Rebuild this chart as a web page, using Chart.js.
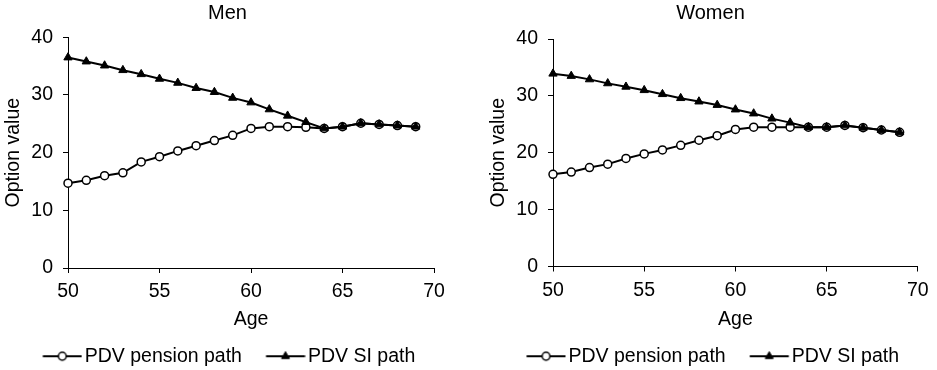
<!DOCTYPE html>
<html><head><meta charset="utf-8">
<script src="https://cdn.jsdelivr.net/npm/chart.js@4/dist/chart.umd.min.js"></script>
<style>
html,body{margin:0;padding:0;background:#fff;overflow:hidden;width:937px;height:370px;position:relative;}
.box{position:absolute;top:0;height:376px;}
#b1{left:0;width:455px;}
#b2{left:485px;width:451px;}
</style></head><body>
<div class="box" id="b1"><canvas id="c1"></canvas></div>
<div class="box" id="b2"><canvas id="c2"></canvas></div>
<script>
const ages = [50,51,52,53,54,55,56,57,58,59,60,61,62,63,64,65,66,67,68,69];
const menPension = [14.7,15.2,16.0,16.5,18.4,19.3,20.3,21.2,22.1,23.0,24.2,24.5,24.5,24.4,24.2,24.5,25.1,24.9,24.7,24.5];
const menSI      = [36.5,35.8,35.1,34.3,33.6,32.8,32.1,31.2,30.5,29.5,28.7,27.5,26.4,25.3,24.2,24.5,25.1,24.9,24.7,24.5];
const womenPension = [16.2,16.6,17.4,18.0,19.0,19.8,20.5,21.3,22.2,23.0,24.1,24.5,24.5,24.5,24.5,24.5,24.8,24.4,24.0,23.6];
const womenSI      = [33.9,33.5,32.9,32.2,31.6,31.0,30.3,29.6,29.0,28.4,27.6,26.9,26.0,25.3,24.5,24.5,24.8,24.4,24.0,23.6];
const xTicks = [50,55,60,65,70];
const yTicks = [0,10,20,30,40];
const seriesNames = ['PDV pension path','PDV SI path'];
const panelTitles = ['Men','Women'];
const xTitle = 'Age';
const yTitle = 'Option value';

const FONT = '"Liberation Sans", Arial, Helvetica, sans-serif';

// legend swatch: a short line with the marker, drawn so it ends ~3px before the label text
function legendImage(kind, bw){
  const half = Math.round(bw/2 + 7.5);
  const W = half*2;
  const c = document.createElement('canvas');
  c.width = W; c.height = 16;
  const g = c.getContext('2d');
  const end = half + bw/2 + 6.75;
  const start = end - 39;
  g.strokeStyle = '#000'; g.lineWidth = 2;
  g.beginPath(); g.moveTo(start, 8); g.lineTo(end, 8); g.stroke();
  const cx = (start + end)/2, cy = 8;
  if (kind === 'circle') {
    g.beginPath(); g.arc(cx, cy, 3.9, 0, Math.PI*2);
    g.fillStyle = '#fff'; g.fill(); g.lineWidth = 1.5; g.stroke();
  } else {
    const r = 4.6;
    g.beginPath();
    g.moveTo(cx, cy - r);
    g.lineTo(cx + r*Math.cos(Math.PI/6), cy + r*0.5);
    g.lineTo(cx - r*Math.cos(Math.PI/6), cy + r*0.5);
    g.closePath();
    g.fillStyle = '#000'; g.fill(); g.lineWidth = 1; g.stroke();
  }
  return c;
}

function makeChart(id, title, pension, si, cfg){
  const toXY = arr => ages.map((a,i)=>({x:a, y:arr[i]}));
  const imgCircle = legendImage('circle', cfg.bw);
  const imgTri = legendImage('triangle', cfg.bw);
  return new Chart(document.getElementById(id), {
    type: 'line',
    data: { datasets: [
      { label: seriesNames[1], data: toXY(si), borderColor:'#000', backgroundColor:'#000', borderWidth:2,
        pointStyle:'triangle', pointRadius:4.8, pointBorderWidth:1, pointBackgroundColor:'#000', pointBorderColor:'#000',
        tension:0, clip:false },
      { label: seriesNames[0], data: toXY(pension), borderColor:'#000', backgroundColor:'#fff', borderWidth:2,
        pointStyle:'circle', pointRadius:4, pointBorderWidth:1.5, pointBackgroundColor:'#fff', pointBorderColor:'#000',
        tension:0, clip:false }
    ]},
    options: {
      responsive:true, maintainAspectRatio:false, animation:false,
      layout: { padding: { left:0, right:0, top:0, bottom:0 } },
      plugins: {
        tooltip: { enabled:false },
        title: { display:true, text:title, color:'#000', font:{family:FONT, size:20, weight:'normal'},
                 padding:{ top:1.2, bottom:cfg.titleGap } },
        legend: { position:'bottom',
          labels: { usePointStyle:true, pointStyleWidth:cfg.bw, padding:cfg.lp, color:'#000',
            font:{family:FONT, size:19.5},
            generateLabels: () => [
              { text:seriesNames[0], pointStyle:imgCircle, datasetIndex:1, hidden:false, lineWidth:0, fillStyle:'#000', strokeStyle:'#000', fontColor:'#000' },
              { text:seriesNames[1], pointStyle:imgTri, datasetIndex:0, hidden:false, lineWidth:0, fillStyle:'#000', strokeStyle:'#000', fontColor:'#000' }
            ]
          }
        }
      },
      scales: {
        x: { type:'linear', min:xTicks[0], max:xTicks[xTicks.length-1],
          afterBuildTicks: s => { s.ticks = xTicks.map(v => ({value:v})); },
          afterFit: s => { s.height = cfg.xH; },
          ticks: { color:'#000', font:{family:FONT, size:19.5}, padding:7.3, maxRotation:0, autoSkip:false },
          grid: { display:true, drawOnChartArea:false, drawTicks:true, tickLength:5, color:'#000', lineWidth:1 },
          border: { display:true, color:'#000', width:1 },
          title: { display:true, text:xTitle, color:'#000', font:{family:FONT, size:19.5, lineHeight:0.5}, padding:{top:0, bottom:cfg.agePad} }
        },
        y: { type:'linear', position:'left', min:yTicks[0], max:yTicks[yTicks.length-1],
          afterBuildTicks: s => { s.ticks = yTicks.map(v => ({value:v})); },
          afterFit: s => { s.width = 68; },
          ticks: { color:'#000', font:{family:FONT, size:19.5}, padding:10 },
          grid: { display:true, drawOnChartArea:false, drawTicks:true, tickLength:5, color:'#000', lineWidth:1 },
          border: { display:true, color:'#000', width:1 },
          title: { display:true, text:yTitle, color:'#000', font:{family:FONT, size:19.5}, padding:{top:1.6, bottom:0} }
        },
        spacer: { type:'linear', position:'right', display:true, min:0, max:1,
          afterFit: s => { s.width = cfg.rightGap; },
          ticks: { display:false }, grid: { display:false, drawTicks:false }, border: { display:false },
          title: { display:false }
        }
      }
    }
  });
}

makeChart('c1', panelTitles[0], menPension, menSI, { rightGap:21, titleGap:12.1, xH:57.5, agePad:0.6, bw:35.25, lp:21 });
makeChart('c2', panelTitles[1], womenPension, womenSI, { rightGap:16, titleGap:13.8, xH:60.5, agePad:2.1, bw:36.75, lp:19.5 });
</script>
</body></html>
